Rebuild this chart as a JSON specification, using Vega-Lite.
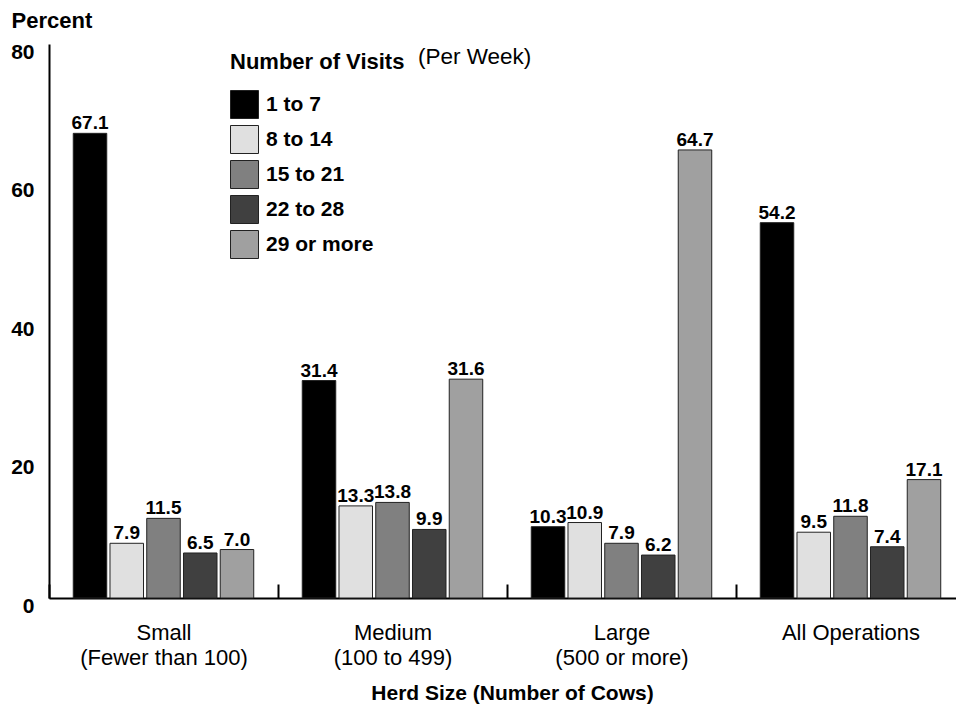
{
  "$schema": "https://vega.github.io/schema/vega-lite/v6.json",
  "width": 907,
  "height": 554,
  "autosize": "none",
  "padding": {"left": 49, "top": 44, "right": 0, "bottom": 111},
  "background": "white",
  "config": {"view": {"stroke": null}, "font": "Liberation Sans"},
  "title": {
    "text": "(Per Week)",
    "anchor": "start",
    "frame": "group",
    "fontSize": 22.5,
    "fontWeight": "normal",
    "color": "black",
    "baseline": "middle",
    "offset": 0,
    "dx": 369,
    "dy": 70
  },
  "data": {
    "values": [
      {"herd": "Small|(Fewer than 100)", "visits": "1 to 7", "pct": 67.1},
      {"herd": "Small|(Fewer than 100)", "visits": "8 to 14", "pct": 7.9},
      {"herd": "Small|(Fewer than 100)", "visits": "15 to 21", "pct": 11.5},
      {"herd": "Small|(Fewer than 100)", "visits": "22 to 28", "pct": 6.5},
      {"herd": "Small|(Fewer than 100)", "visits": "29 or more", "pct": 7.0},
      {"herd": "Medium|(100 to 499)", "visits": "1 to 7", "pct": 31.4},
      {"herd": "Medium|(100 to 499)", "visits": "8 to 14", "pct": 13.3},
      {"herd": "Medium|(100 to 499)", "visits": "15 to 21", "pct": 13.8},
      {"herd": "Medium|(100 to 499)", "visits": "22 to 28", "pct": 9.9},
      {"herd": "Medium|(100 to 499)", "visits": "29 or more", "pct": 31.6},
      {"herd": "Large|(500 or more)", "visits": "1 to 7", "pct": 10.3},
      {"herd": "Large|(500 or more)", "visits": "8 to 14", "pct": 10.9},
      {"herd": "Large|(500 or more)", "visits": "15 to 21", "pct": 7.9},
      {"herd": "Large|(500 or more)", "visits": "22 to 28", "pct": 6.2},
      {"herd": "Large|(500 or more)", "visits": "29 or more", "pct": 64.7},
      {"herd": "All Operations", "visits": "1 to 7", "pct": 54.2},
      {"herd": "All Operations", "visits": "8 to 14", "pct": 9.5},
      {"herd": "All Operations", "visits": "15 to 21", "pct": 11.8},
      {"herd": "All Operations", "visits": "22 to 28", "pct": 7.4},
      {"herd": "All Operations", "visits": "29 or more", "pct": 17.1}
    ]
  },
  "encoding": {
    "x": {
      "field": "herd",
      "type": "nominal",
      "sort": ["Small|(Fewer than 100)", "Medium|(100 to 499)", "Large|(500 or more)", "All Operations"],
      "scale": {"range": [0, 916], "paddingInner": 0, "paddingOuter": 0},
      "axis": {
        "title": "Herd Size (Number of Cows)",
        "titleFontSize": 21,
        "titleFontWeight": "bold",
        "titleColor": "black",
        "titleX": 463,
        "titleY": 95,
        "titleAlign": "center",
        "titleBaseline": "middle",
        "labelAngle": 0,
        "labelFontSize": 22,
        "labelFontWeight": "normal",
        "labelColor": "black",
        "labelExpr": "split(datum.label, '|')",
        "labelLineHeight": 25,
        "labelBaseline": "top",
        "labelPadding": 38,
        "ticks": true,
        "tickBand": "extent",
        "tickSize": -14,
        "tickWidth": 2,
        "tickColor": "black",
        "domainColor": "black",
        "domainWidth": 2,
        "grid": false
      }
    },
    "xOffset": {
      "field": "visits",
      "type": "nominal",
      "sort": ["1 to 7", "8 to 14", "15 to 21", "22 to 28", "29 or more"],
      "scale": {"paddingInner": 0.088, "paddingOuter": 0.66}
    },
    "y": {
      "field": "pct",
      "type": "quantitative",
      "scale": {"domain": [0, 80], "nice": false},
      "axis": {
        "values": [0, 20, 40, 60, 80],
        "title": "Percent",
        "titleAngle": 0,
        "titleX": -38,
        "titleY": -24,
        "titleAlign": "left",
        "titleBaseline": "middle",
        "titleFontSize": 22,
        "titleFontWeight": "bold",
        "titleColor": "black",
        "labelFontSize": 21,
        "labelFontWeight": "bold",
        "labelColor": "black",
        "labelPadding": 15,
        "labelOffset": 8,
        "labelFlush": false,
        "ticks": false,
        "grid": false,
        "domainColor": "black",
        "domainWidth": 2
      }
    }
  },
  "layer": [
    {
      "mark": {"type": "bar", "stroke": "#222222", "strokeWidth": 1},
      "encoding": {
        "color": {
          "field": "visits",
          "type": "nominal",
          "scale": {
            "domain": ["1 to 7", "8 to 14", "15 to 21", "22 to 28", "29 or more"],
            "range": ["#000000", "#e0e0e0", "#808080", "#404040", "#a0a0a0"]
          },
          "legend": {
            "orient": "none",
            "legendX": 181,
            "legendY": 8,
            "title": "Number of Visits",
            "titleFontSize": 22,
            "titleFontWeight": "bold",
            "titleColor": "black",
            "titlePadding": 16,
            "symbolType": "square",
            "symbolSize": 784,
            "symbolStrokeColor": "#222222",
            "symbolStrokeWidth": 1,
            "symbolOpacity": 1,
            "labelFontSize": 21,
            "labelFontWeight": "bold",
            "labelColor": "black",
            "labelOffset": 7,
            "rowPadding": 2,
            "padding": 0
          }
        }
      }
    },
    {
      "mark": {"type": "text", "baseline": "alphabetic", "dy": -4, "fontSize": 19, "fontWeight": "bold", "color": "black"},
      "encoding": {"text": {"field": "pct", "type": "quantitative", "format": ".1f"}}
    }
  ]
}
